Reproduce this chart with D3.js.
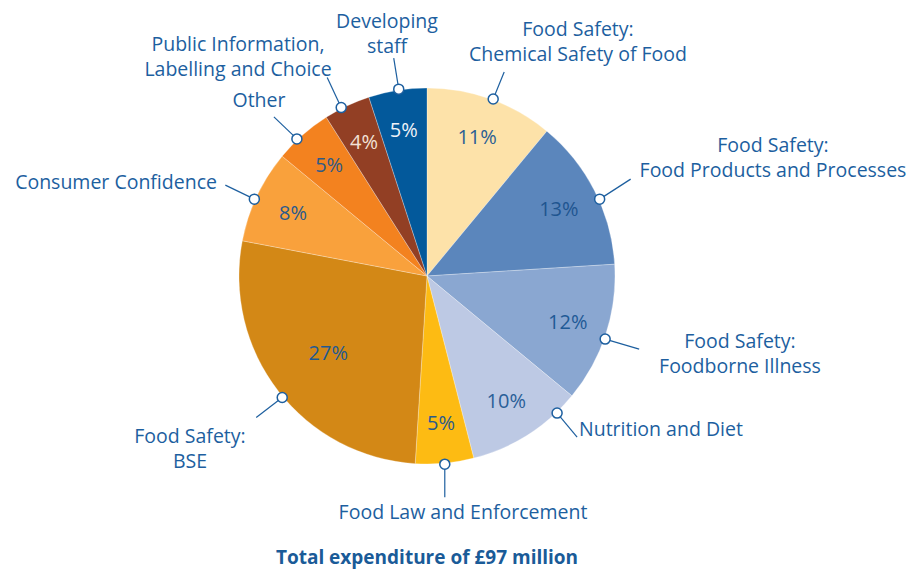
<!DOCTYPE html>
<meta charset="utf-8">
<html>
  <head>
    <style>
     body { margin: 0; background: #fff; }
     text.lbl {
       font-family: "Open Sans", sans-serif;
       font-size: 19.5px;
       fill: #1d5f9f;
     }
     text.pct {
       font-family: "Open Sans", sans-serif;
       font-size: 20px;
     }
     text.title {
       font-family: "Open Sans", sans-serif;
       font-size: 19px;
       font-weight: bold;
       fill: #1a5b98;
     }
    </style>
    <script src="https://cdn.jsdelivr.net/npm/d3@7"></script>
  </head>
  <body>
    <div id="chart"></div>
    <script type="text/javascript">
     var width = 909, height = 570,
         cx = 427, cy = 276,
         radius = 188;

     // slices clockwise from 12 o'clock
     var categories = ["Food Safety: Chemical Safety of Food", "Food Safety: Food Products and Processes",
                       "Food Safety: Foodborne Illness", "Nutrition and Diet", "Food Law and Enforcement",
                       "Food Safety: BSE", "Consumer Confidence", "Other",
                       "Public Information, Labelling and Choice", "Developing staff"];
     var shares = [11, 13, 12, 10, 5, 27, 8, 5, 4, 5];
     var labelLines = [["Food Safety:", "Chemical Safety of Food"],
                       ["Food Safety:", "Food Products and Processes"],
                       ["Food Safety:", "Foodborne Illness"],
                       ["Nutrition and Diet"],
                       ["Food Law and Enforcement"],
                       ["Food Safety:", "BSE"],
                       ["Consumer Confidence"],
                       ["Other"],
                       ["Public Information,", "Labelling and Choice"],
                       ["Developing", "staff"]];
     var title = "Total expenditure of £97 million";

     var colors = ["#fde2a9", "#5b86bc", "#8aa7d1", "#bdc9e4", "#fdbb13",
                   "#d38816", "#f9a13c", "#f3821f", "#923f24", "#03599b"];
     var pctColors = ["#2a5f94", "#1f5590", "#1f5a96", "#2a5f98", "#2a5a8c",
                      "#1f5a92", "#2a5a8c", "#2f5a86", "#f3e2d6", "#eef2f8"];

     // callout layout: marker angle (deg), leader end offset, text anchor point
     var callouts = [
       { a: 20.5,  dx: 11,  dy: -27, tx: 578, ty: 36,  anchor: "middle" },
       { a: 66,    dx: 31,  dy: -20, tx: 773, ty: 152, anchor: "middle" },
       { a: 109.5, dx: 34,  dy: 10,  tx: 740, ty: 348, anchor: "middle" },
       { a: 136.5, dx: 20,  dy: 24,  tx: 579, ty: 436, anchor: "start" },
       { a: 174.6, dx: 0,   dy: 33,  tx: 463, ty: 519, anchor: "middle" },
       { a: 230,   dx: -26, dy: 20,  tx: 190, ty: 443, anchor: "middle" },
       { a: 294,   dx: -29, dy: -14, tx: 217, ty: 189, anchor: "end" },
       { a: 316.5, dx: -23, dy: -22, tx: 259, ty: 107, anchor: "middle" },
       { a: 333,   dx: -14, dy: -30, tx: 238, ty: 51,  anchor: "middle" },
       { a: 351.4, dx: -5,  dy: -31, tx: 387, ty: 28,  anchor: "middle" }
     ];

     var svg = d3.select("#chart").append("svg")
                 .attr("width", width)
                 .attr("height", height);

     var g = svg.append("g")
                .attr("transform", "translate(" + cx + "," + cy + ")");

     var pie = d3.pie().sort(null).value(function (d) { return d; });
     var arcs = pie(shares);

     var arc = d3.arc().innerRadius(0).outerRadius(radius);

     g.selectAll(".slice")
      .data(arcs)
      .enter().append("path")
      .attr("class", "slice")
      .attr("d", arc)
      .style("fill", function (d, i) { return colors[i]; })
      .style("stroke", "#ffffff")
      .style("stroke-opacity", 0.35)
      .style("stroke-width", 0.8);

     // percentage labels
     var pctArc = d3.arc().innerRadius(148).outerRadius(148);
     var bigArc = d3.arc().innerRadius(125).outerRadius(125);

     g.selectAll(".pct")
      .data(arcs)
      .enter().append("text")
      .attr("class", "pct")
      .attr("text-anchor", "middle")
      .attr("dy", "0.35em")
      .attr("transform", function (d) {
        var c = (d.data > 20 ? bigArc : pctArc).centroid(d);
        return "translate(" + c[0] + "," + c[1] + ")";
      })
      .style("fill", function (d, i) { return pctColors[i]; })
      .text(function (d) { return d.data + "%"; });

     // callouts
     var markerR = 189;
     function markerPos(c) {
       var t = c.a * Math.PI / 180;
       return [cx + markerR * Math.sin(t), cy - markerR * Math.cos(t)];
     }

     var call = svg.selectAll(".callout")
                   .data(callouts)
                   .enter().append("g")
                   .attr("class", "callout");

     call.append("line")
         .attr("x1", function (d) { return markerPos(d)[0]; })
         .attr("y1", function (d) { return markerPos(d)[1]; })
         .attr("x2", function (d) { return markerPos(d)[0] + d.dx; })
         .attr("y2", function (d) { return markerPos(d)[1] + d.dy; })
         .style("stroke", "#1d5f9f")
         .style("stroke-width", 1.2);

     call.append("circle")
         .attr("cx", function (d) { return markerPos(d)[0]; })
         .attr("cy", function (d) { return markerPos(d)[1]; })
         .attr("r", 5)
         .style("fill", "#ffffff")
         .style("stroke", "#1d5f9f")
         .style("stroke-width", 1.5);

     call.append("text")
         .attr("class", "lbl")
         .attr("text-anchor", function (d) { return d.anchor; })
         .attr("x", function (d) { return d.tx; })
         .attr("y", function (d) { return d.ty; })
         .selectAll("tspan")
         .data(function (d, i) { return labelLines[i].map(function (s) { return { s: s, x: d.tx }; }); })
         .enter().append("tspan")
         .attr("x", function (d) { return d.x; })
         .attr("dy", function (d, j) { return j === 0 ? 0 : 25; })
         .text(function (d) { return d.s; });

     svg.append("text")
        .attr("class", "title")
        .attr("text-anchor", "middle")
        .attr("x", 427)
        .attr("y", 564)
        .text(title);
    </script>
  </body>
</html>
